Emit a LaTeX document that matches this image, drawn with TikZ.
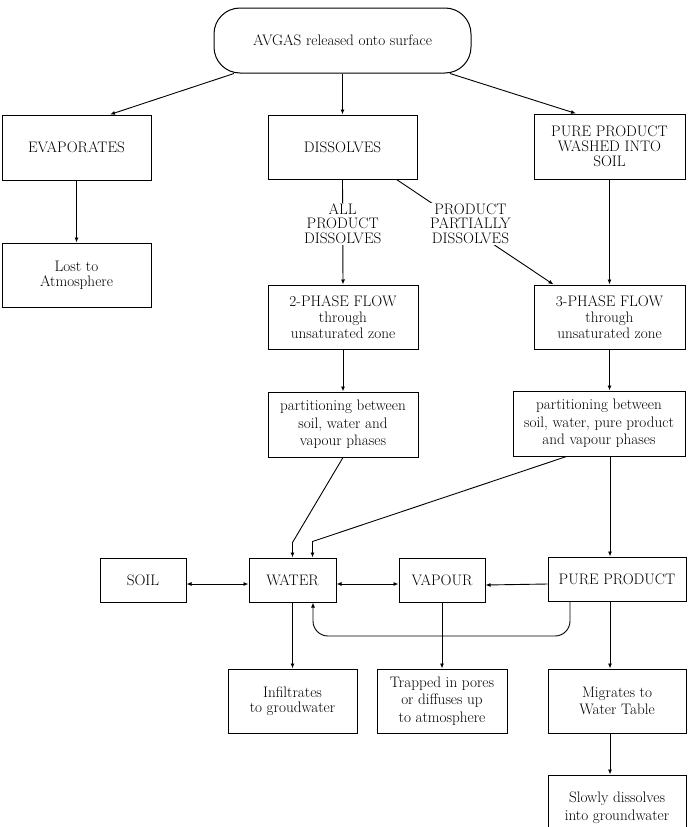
\documentclass[tikz,border=0pt]{standalone}
\usetikzlibrary{arrows.meta}
\begin{document}
\begin{tikzpicture}[x=1pt,y=-1pt,
  txt/.style={font=\fontsize{15.2}{16}\selectfont},
  box/.style={txt, draw, line width=1pt, align=center, inner sep=0pt, minimum height=64pt},
  smallbox/.style={box, minimum height=44pt},
  term/.style={txt, draw, line width=1pt, rounded corners=26pt, inner sep=0pt,
    minimum width=257pt, minimum height=65pt},
  lab/.style={font=\fontsize{15.2}{14.5}\selectfont, fill=white, inner sep=1pt, align=center},
  arr/.style={line width=0.9pt, -{Latex[length=5pt,width=4pt]}},
  biarr/.style={line width=0.9pt, {Latex[length=5pt,width=4pt]}-{Latex[length=5pt,width=4pt]}}
]
\useasboundingbox (0,0) rectangle (690,827);

% source
\node[term] (top) at (342.5,40.5) {AVGAS released onto surface};

% first split
\node[box, minimum width=149pt, minimum height=65pt] (evap) at (76.5,147.5) {EVAPORATES};
\node[box, minimum width=149pt] (diss) at (342.5,147) {DISSOLVES};
\node[box, minimum width=151pt, minimum height=65pt, font=\fontsize{15.2}{15}\selectfont] (wash) at (609.5,146.5)
  {PURE PRODUCT\\WASHED INTO\\SOIL};
\node[box, minimum width=149pt, font=\fontsize{15.2}{15}\selectfont] (lost) at (76.5,275) {Lost to\\Atmosphere};

% flow through the unsaturated zone
\node[box, minimum width=150pt] (ph2) at (343,317) {2-PHASE FLOW\\through\\unsaturated zone};
\node[box, minimum width=151pt] (ph3) at (609.5,317) {3-PHASE FLOW\\through\\unsaturated zone};
\node[box, minimum width=150pt, minimum height=65pt, font=\fontsize{15.2}{17.5}\selectfont] (part1) at (343,424.5)
  {partitioning between\\soil, water and\\vapour phases};
\node[box, minimum width=172pt, minimum height=65pt, font=\fontsize{15.2}{17.5}\selectfont] (part2) at (599,423.5)
  {partitioning between\\soil, water, pure product\\and vapour phases};

% phases
\node[smallbox, minimum width=86pt] (soil) at (143,580) {SOIL};
\node[smallbox, minimum width=87pt] (water) at (292.5,580) {WATER};
\node[smallbox, minimum width=86pt] (vapour) at (442,580) {VAPOUR};
\node[smallbox, minimum width=138pt] (pure) at (617,579) {PURE PRODUCT};

% fates
\node[box, minimum width=129pt, font=\fontsize{15.2}{15}\selectfont] (infil) at (292.5,701) {Infiltrates\\to groudwater};
\node[box, minimum width=130pt, font=\fontsize{15.2}{17.5}\selectfont] (trap) at (442,701)
  {Trapped in pores\\or diffuses up\\to atmosphere};
\node[box, minimum width=138pt, font=\fontsize{15.2}{17}\selectfont] (migr) at (617,701) {Migrates to\\Water Table};
\node[box, minimum width=138pt, minimum height=65pt, font=\fontsize{15.2}{18}\selectfont] (slow) at (617,807.5)
  {Slowly dissolves\\into groundwater};

% connectors
\draw[arr] ([xshift=-108.5pt]top.south) -- ([xshift=33.5pt]evap.north);
\draw[arr] (top.south) -- (diss.north);
\draw[arr] ([xshift=107.5pt]top.south) -- ([xshift=-33.5pt]wash.north);
\draw[arr] (evap) -- (lost);
\draw[arr] (diss.south) -- node[lab, pos=0.42] {ALL\\PRODUCT\\DISSOLVES} (ph2.north);
\draw[arr] ([xshift=-21pt]diss.south east) -- node[lab, pos=0.42, xshift=8pt] {PRODUCT\\PARTIALLY\\DISSOLVES}
  ([xshift=20pt]ph3.north west);
\draw[arr] (wash) -- (ph3);
\draw[arr] (ph2) -- (part1);
\draw[arr] (ph3.south) -- (ph3.south |- part2.north);
\draw[arr] (part1.south) -- ([yshift=15pt]water.north) -- (water.north);
\draw[arr] ([xshift=54pt]part2.south west) -- ([xshift=20pt,yshift=16pt]water.north) -- ([xshift=20pt]water.north);

\coordinate (rcol) at (610,0);
\draw[arr] (rcol |- part2.south) -- (rcol |- pure.north);
\draw[biarr] ([yshift=-4pt]soil.east) -- ([yshift=-4pt]water.west);
\draw[biarr] ([yshift=-4pt]water.east) -- ([yshift=-4pt]vapour.west);
\draw[arr] ([yshift=-5pt]pure.west) -- ([yshift=-5pt]vapour.east);

\coordinate (ret) at ([xshift=-47pt]pure.south);
\coordinate (retin) at ([xshift=20.5pt]water.south);
\coordinate (retlow) at (0,636);
\draw[arr, rounded corners=15pt] (ret) -- (ret |- retlow) -- (retin |- retlow) -- (retin);

\draw[arr] (water) -- (infil);
\draw[arr] (vapour) -- (trap);
\draw[arr] (rcol |- pure.south) -- (rcol |- migr.north);
\draw[arr] (rcol |- migr.south) -- (rcol |- slow.north);
\end{tikzpicture}
\end{document}
